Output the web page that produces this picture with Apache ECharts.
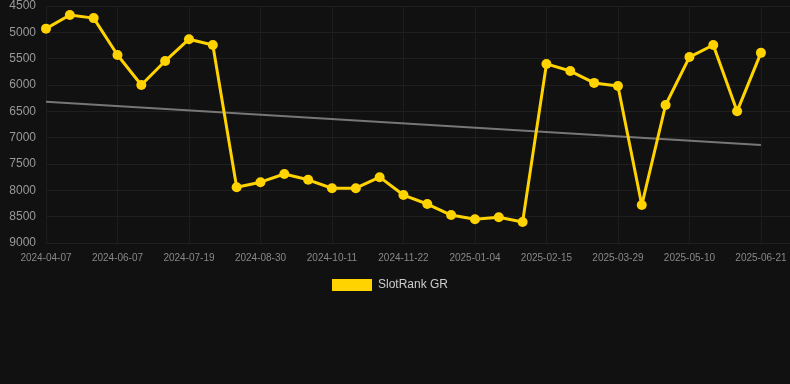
<!DOCTYPE html>
<html><head><meta charset="utf-8">
<script src="https://cdn.jsdelivr.net/npm/echarts@6/dist/echarts.min.js"></script>
<style>html,body{margin:0;padding:0;background:#111111;}#c{width:790px;height:384px;}</style>
</head><body><div id="c"></div>
<script>
const categories = ["2024-04-07","2024-05-03","2024-05-24","2024-06-07","2024-06-21","2024-07-05","2024-07-19","2024-08-02","2024-08-16","2024-08-30","2024-09-13","2024-09-27","2024-10-11","2024-10-25","2024-11-08","2024-11-22","2024-12-06","2024-12-20","2025-01-04","2025-01-18","2025-02-01","2025-02-15","2025-03-01","2025-03-15","2025-03-29","2025-04-12","2025-04-26","2025-05-10","2025-05-24","2025-06-07","2025-06-21"];
const rankValues = [4930,4670,4730,5430,6000,5545,5130,5240,7940,7845,7690,7800,7960,7960,7750,8090,8260,8470,8550,8510,8600,5600,5735,5960,6020,8280,6380,5470,5240,6500,5390];
const trendStart = 6320;
const trendEnd = 7140;
const yTicks = [4500,5000,5500,6000,6500,7000,7500,8000,8500,9000];

const n = categories.length;
const rankData = rankValues.map((v,i)=>[i,v]);
const trendData = [[0,trendStart],[n-1,trendEnd]];

const chart = echarts.init(document.getElementById('c'));
chart.setOption({
  backgroundColor:'#111111',
  animation:false,
  grid:{left:46,right:0,top:6,bottom:141},
  legend:{data:['SlotRank GR'],top:274,left:327,itemWidth:40,itemHeight:12,itemGap:10,icon:'rect',
    textStyle:{color:'#cccccc',fontSize:12,padding:[0,0,0,1],fontFamily:'Arial, Liberation Sans, sans-serif'}},
  xAxis:{type:'value',min:0,max:(n-1)+1.22,interval:3,
    axisLine:{show:false},axisTick:{show:false},
    axisLabel:{color:'#888888',fontSize:10,margin:10,fontFamily:'Arial, Liberation Sans, sans-serif',
      showMaxLabel:false,
      formatter:(v)=> (Number.isInteger(v) && categories[v]) ? categories[v] : ''},
    splitLine:{show:true,lineStyle:{color:'#1d1d1d',width:1}}},
  yAxis:{type:'value',inverse:true,min:yTicks[0],max:yTicks[yTicks.length-1],interval:500,
    axisLine:{show:false},axisTick:{show:false},
    axisLabel:{color:'#999999',fontSize:12,margin:10,fontFamily:'Arial, Liberation Sans, sans-serif',
      formatter:(v)=>String(v)},
    splitLine:{lineStyle:{color:'#1f1f1f',width:1}}},
  series:[
    {name:'SlotRank GR',type:'line',data:rankData,symbol:'circle',symbolSize:10,
      lineStyle:{color:'#FFD300',width:3},itemStyle:{color:'#FFD300'},z:3},
    {name:'trend',type:'line',data:trendData,symbol:'none',
      lineStyle:{color:'#777777',width:2},z:2}
  ]
});
</script></body></html>
